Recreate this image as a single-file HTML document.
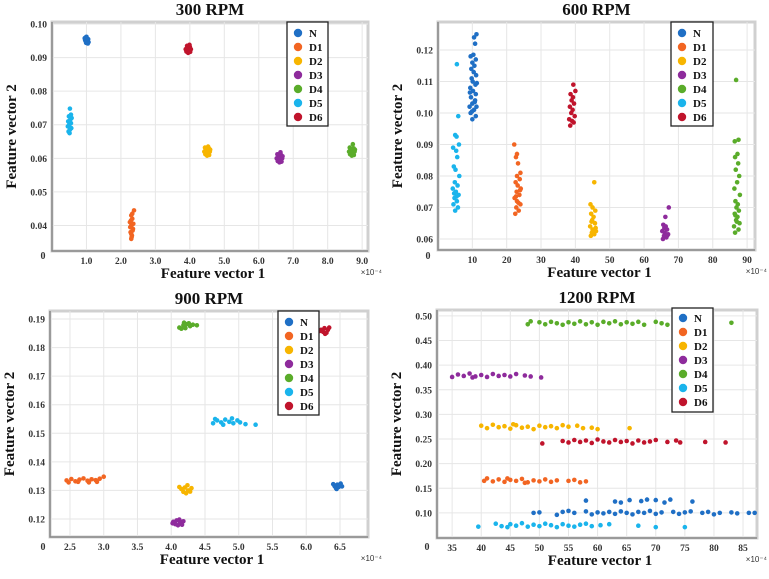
<!DOCTYPE html>
<html><head><meta charset="utf-8">
<style>
html,body{margin:0;padding:0;background:#fff;}
svg{display:block;font-family:"Liberation Serif",serif;}
</style></head>
<body>
<svg id="chart" width="769" height="579" viewBox="0 0 769 579" xmlns="http://www.w3.org/2000/svg"></svg>
<script>
// ---------- Data ----------
const seriesNames = ["N","D1","D2","D3","D4","D5","D6"];
const seriesColors = ["#1f6fc5","#f26522","#f7b500","#8e2b9c","#5aac2a","#1ab4ec","#c0142c"];

// 300 RPM
const r300_N = [[0.95,0.0958],[1.0,0.0962],[1.05,0.0955],[0.97,0.0950],[1.02,0.0948],[1.06,0.0946],[0.99,0.0944],[1.03,0.0953],[0.96,0.0953],[1.01,0.0957],[1.04,0.0942],[0.98,0.0960]];
const r300_D1 = [[2.3,0.036],[2.32,0.037],[2.28,0.038],[2.35,0.039],[2.3,0.040],[2.26,0.041],[2.33,0.042],[2.3,0.043],[2.38,0.0445],[2.3,0.0375],[2.34,0.0385],[2.27,0.0395],[2.31,0.0365],[2.36,0.0405],[2.29,0.0415],[2.33,0.0435]];
const r300_D2 = [[4.42,0.0620],[4.48,0.0625],[4.55,0.0630],[4.45,0.0612],[4.52,0.0615],[4.58,0.0620],[4.44,0.0632],[4.50,0.0608],[4.56,0.0610],[4.47,0.0618],[4.53,0.0635],[4.59,0.0626]];
const r300_D3 = [[6.52,0.0600],[6.58,0.0605],[6.65,0.0610],[6.55,0.0592],[6.62,0.0595],[6.68,0.0600],[6.54,0.0612],[6.60,0.0588],[6.66,0.0590],[6.57,0.0598],[6.63,0.0618],[6.69,0.0606]];
const r300_D4 = [[8.62,0.0620],[8.68,0.0625],[8.75,0.0630],[8.65,0.0612],[8.72,0.0615],[8.78,0.0620],[8.64,0.0632],[8.70,0.0608],[8.76,0.0610],[8.67,0.0618],[8.73,0.0642],[8.79,0.0626]];
const r300_D5 = [[0.48,0.0680],[0.52,0.0685],[0.56,0.0690],[0.46,0.0695],[0.50,0.0700],[0.55,0.0705],[0.47,0.0710],[0.53,0.0715],[0.57,0.0720],[0.49,0.0725],[0.54,0.0690],[0.51,0.0675],[0.55,0.0730],[0.52,0.0748]];
const r300_D6 = [[3.88,0.0925],[3.94,0.0930],[4.0,0.0932],[3.90,0.0918],[3.97,0.0920],[4.03,0.0925],[3.92,0.0935],[3.95,0.0914],[4.01,0.0917],[3.99,0.0938]];

// 600 RPM
const r600_N = [[10,0.098],[11,0.099],[9.5,0.100],[10.5,0.101],[9.2,0.102],[11.2,0.102],[10,0.103],[10.8,0.104],[9.6,0.105],[11,0.106],[10.2,0.107],[9.4,0.108],[10.9,0.109],[10.1,0.110],[9.8,0.111],[11.1,0.112],[10.4,0.113],[9.7,0.114],[10.6,0.115],[10,0.116],[11,0.117],[9.5,0.118],[10.3,0.1185],[10.8,0.122],[10.5,0.124],[11.2,0.125],[9.9,0.1005],[10.7,0.1035],[9.3,0.1065],[11.3,0.1095]];
const r600_D1 = [[22.5,0.068],[23.5,0.069],[22.8,0.070],[24,0.071],[23,0.072],[22.3,0.073],[23.7,0.074],[22.9,0.075],[24.1,0.076],[23.2,0.077],[22.6,0.078],[23.8,0.079],[23,0.080],[24,0.081],[23.3,0.084],[22.7,0.086],[23,0.087],[22.2,0.090],[23.4,0.0715],[22.7,0.0735],[23.9,0.0755]];
const r600_D2 = [[44.5,0.061],[45.5,0.0615],[44.8,0.062],[46,0.0625],[45,0.063],[44.3,0.064],[45.7,0.065],[44.9,0.066],[45.3,0.067],[44.6,0.068],[45.8,0.069],[45,0.070],[44.4,0.071],[45.5,0.078],[45.9,0.0635],[44.7,0.0655]];
const r600_D3 = [[65.5,0.060],[66.5,0.0605],[65.8,0.061],[67,0.0615],[66,0.062],[65.3,0.0625],[66.7,0.063],[65.9,0.0635],[66.3,0.064],[65.6,0.0645],[66.2,0.067],[67.2,0.070],[66.8,0.0612]];
const r600_D4 = [[86.5,0.062],[87.5,0.063],[86.2,0.064],[87.8,0.065],[86.8,0.066],[87.2,0.067],[86.4,0.068],[87.6,0.069],[86.9,0.070],[87.3,0.071],[86.6,0.072],[87.9,0.074],[86.3,0.076],[87.1,0.078],[87.7,0.080],[86.7,0.082],[87.4,0.084],[86.5,0.086],[87.2,0.087],[86.4,0.091],[87.5,0.0915],[86.8,0.1105],[87,0.0655],[86.6,0.0675]];
const r600_D5 = [[5,0.069],[5.8,0.070],[4.5,0.071],[5.5,0.072],[4.8,0.073],[6,0.074],[5.2,0.075],[4.3,0.076],[5.7,0.077],[4.9,0.078],[6.2,0.080],[5.1,0.082],[4.6,0.083],[5.6,0.086],[5.3,0.088],[4.4,0.089],[6.1,0.090],[5,0.093],[5.4,0.0925],[5.9,0.099],[5.5,0.1155],[4.7,0.0745],[5.4,0.0735]];
const r600_D6 = [[38.5,0.096],[39.5,0.097],[38.2,0.098],[39.8,0.099],[38.8,0.100],[39.2,0.101],[38.4,0.102],[39.6,0.103],[38.9,0.104],[39.3,0.105],[38.6,0.106],[40,0.107],[39.4,0.109],[39,0.0975]];

// 900 RPM
const r900_N = [[6.42,0.1315],[6.46,0.1320],[6.50,0.1318],[6.44,0.1308],[6.48,0.1312],[6.53,0.1314],[6.40,0.1322],[6.51,0.1324],[6.45,0.1305]];
const r900_D1 = [[2.45,0.1335],[2.52,0.1340],[2.58,0.1332],[2.64,0.1338],[2.70,0.1342],[2.76,0.1334],[2.82,0.1339],[2.88,0.1336],[2.94,0.1341],[3.0,0.1348],[2.48,0.1328],[2.62,0.1330],[2.78,0.1328],[2.90,0.1330]];
const r900_D2 = [[4.15,0.1305],[4.20,0.1310],[4.25,0.1300],[4.30,0.1308],[4.18,0.1295],[4.24,0.1318],[4.12,0.1312],[4.28,0.1296],[4.22,0.1290]];
const r900_D3 = [[4.03,0.1190],[4.08,0.1195],[4.13,0.1188],[4.18,0.1192],[4.06,0.1182],[4.12,0.1198],[4.16,0.1180],[4.02,0.1185],[4.10,0.1178]];
const r900_D4 = [[4.12,0.1870],[4.18,0.1878],[4.23,0.1882],[4.28,0.1875],[4.15,0.1866],[4.21,0.1868],[4.26,0.1885],[4.32,0.1880],[4.38,0.1878],[4.19,0.1887]];
const r900_D5 = [[4.62,0.1535],[4.68,0.1545],[4.74,0.1538],[4.80,0.1548],[4.86,0.1540],[4.92,0.1535],[4.98,0.1545],[4.65,0.1550],[4.77,0.1530],[5.02,0.1538],[5.10,0.1532],[5.25,0.1530],[4.90,0.1552]];
const r900_D6 = [[6.22,0.1862],[6.27,0.1868],[6.32,0.1862],[6.25,0.1855],[6.30,0.1852],[6.20,0.1858],[6.34,0.1870],[6.28,0.1848]];

// 1200 RPM
const r1200_N = [[49,0.100],[50,0.101],[53,0.096],[54,0.102],[55,0.104],[56,0.100],[58,0.103],[59,0.097],[60,0.101],[61,0.099],[62,0.102],[63,0.098],[64,0.103],[65,0.100],[66,0.097],[67,0.102],[68,0.100],[69,0.104],[70,0.098],[71,0.101],[73,0.102],[74,0.098],[75,0.101],[76,0.103],[78,0.100],[79,0.102],[80,0.097],[81,0.100],[83,0.101],[84,0.099],[86,0.100],[87,0.100],[58,0.125],[63,0.123],[64,0.121],[65.5,0.126],[67.5,0.124],[68.5,0.127],[70,0.126],[71.5,0.121],[72.5,0.127],[76.3,0.123]];
const r1200_D1 = [[40.5,0.165],[41,0.170],[42,0.164],[43,0.168],[44,0.163],[45,0.167],[46,0.165],[47,0.169],[48,0.162],[49,0.166],[50,0.164],[51,0.168],[52,0.163],[53,0.166],[55,0.165],[56,0.167],[57,0.162],[58,0.164],[44.5,0.170],[47.5,0.161]];
const r1200_D2 = [[40,0.277],[41,0.272],[42,0.279],[43,0.274],[44,0.276],[45,0.271],[46,0.278],[47,0.273],[48,0.275],[49,0.270],[50,0.277],[51,0.274],[52,0.276],[53,0.272],[54,0.278],[55,0.275],[56.5,0.277],[57.5,0.272],[59,0.273],[60,0.270],[65.5,0.272],[45.5,0.280]];
const r1200_D6 = [[50.5,0.241],[54,0.246],[55,0.243],[56,0.248],[57,0.244],[58,0.247],[59,0.242],[60,0.249],[61,0.245],[62,0.243],[63,0.248],[64,0.244],[65,0.246],[66,0.241],[67,0.247],[68,0.243],[69,0.245],[70,0.248],[72,0.244],[73.5,0.247],[74.2,0.243],[78.5,0.244],[82,0.243]];
const r1200_D3 = [[35,0.376],[36,0.381],[37,0.378],[38,0.383],[39,0.377],[40,0.380],[41,0.376],[42,0.382],[43,0.378],[44,0.380],[45,0.377],[46,0.382],[47.5,0.379],[48.5,0.377],[50.3,0.375],[38.5,0.375]];
const r1200_D4 = [[48,0.483],[48.5,0.489],[50,0.487],[51,0.483],[52,0.488],[53,0.485],[54,0.482],[55,0.487],[56,0.484],[57,0.489],[58,0.483],[59,0.487],[60,0.482],[61,0.488],[62,0.485],[63,0.489],[64,0.483],[65,0.487],[66,0.484],[67,0.488],[68,0.482],[70,0.488],[71,0.485],[72,0.482],[83,0.486]];
const r1200_D5 = [[39.5,0.072],[42.5,0.078],[43.5,0.073],[44.5,0.071],[45,0.077],[46,0.074],[47,0.079],[48,0.072],[49,0.076],[50,0.073],[51,0.078],[52,0.075],[53,0.071],[54,0.077],[55,0.074],[56,0.072],[57,0.076],[58,0.078],[59,0.073],[60.5,0.075],[62,0.077],[67,0.074],[70,0.071],[75,0.071]];

// Tick labels
const ticks300X = ["1.0","2.0","3.0","4.0","5.0","6.0","7.0","8.0","9.0"];
const ticks300Y = ["0.04","0.05","0.06","0.07","0.08","0.09","0.10"];
const ticks600X = ["10","20","30","40","50","60","70","80","90"];
const ticks600Y = ["0.06","0.07","0.08","0.09","0.10","0.11","0.12"];
const ticks900X = ["2.5","3.0","3.5","4.0","4.5","5.0","5.5","6.0","6.5"];
const ticks900Y = ["0.12","0.13","0.14","0.15","0.16","0.17","0.18","0.19"];
const ticks1200X = ["35","40","45","50","55","60","65","70","75","80","85"];
const ticks1200Y = ["0.10","0.15","0.20","0.25","0.30","0.35","0.40","0.45","0.50"];

// ---------- Rendering ----------
const NS = "http://www.w3.org/2000/svg";
const svg = document.getElementById("chart");
function mk(tag, attrs, parent){
  const e = document.createElementNS(NS, tag);
  for (const k in attrs) e.setAttribute(k, attrs[k]);
  (parent||svg).appendChild(e);
  return e;
}

const panels = [
  {id:"300", title:"300 RPM", L:52,T:22,R:368,B:251, x0:0,x1:9.17, y0:0.0324,y1:0.1006, tx:ticks300X, ty:ticks300Y,
   series:[r300_N,r300_D1,r300_D2,r300_D3,r300_D4,r300_D5,r300_D6], leg:{x:287,y:22,w:41,h:104,first:33}, zero:[43,259]},
  {id:"600", title:"600 RPM", L:438,T:22,R:755,B:250, x0:0,x1:92.3, y0:0.0565,y1:0.1289, tx:ticks600X, ty:ticks600Y,
   series:[r600_N,r600_D1,r600_D2,r600_D3,r600_D4,r600_D5,r600_D6], leg:{x:671,y:22,w:42,h:104,first:33}, zero:[428,259]},
  {id:"900", title:"900 RPM", L:50,T:311,R:368,B:537, x0:2.204,x1:6.915, y0:0.1137,y1:0.1928, tx:ticks900X, ty:ticks900Y,
   series:[r900_N,r900_D1,r900_D2,r900_D3,r900_D4,r900_D5,r900_D6], leg:{x:278,y:311,w:41,h:104,first:322}, zero:[43,550]},
  {id:"1200", title:"1200 RPM", L:437,T:310,R:757,B:538, x0:32.4,x1:87.4, y0:0.049,y1:0.512, tx:ticks1200X, ty:ticks1200Y,
   series:[r1200_N,r1200_D1,r1200_D2,r1200_D3,r1200_D4,r1200_D5,r1200_D6], leg:{x:672,y:308,w:41,h:104,first:318}, zero:[427,550]}
];

panels.forEach(p=>{
  const g = mk("g",{});
  
  
  const sx = v => p.L + (v - p.x0)/(p.x1 - p.x0)*(p.R - p.L);
  const sy = v => p.B - (v - p.y0)/(p.y1 - p.y0)*(p.B - p.T);

  const frame = mk("rect",{x:p.L,y:p.T,width:p.R-p.L,height:p.B-p.T,fill:"#fff",stroke:"#d0d0d0","stroke-width":3},g);
  
  

  p.tx.forEach(t=>{
    const x = sx(parseFloat(t));
    const gl = mk("line",{x1:x,x2:x,y1:p.T,y2:p.B,stroke:"#e6e6e6","stroke-width":1},g);
    
    
    const tl = mk("text",{x:x,y:p.B+13,"text-anchor":"middle","font-size":9.5,"font-weight":"bold",fill:"#333"},g);
    tl.textContent = t;
    
    
  });
  p.ty.forEach(t=>{
    const y = sy(parseFloat(t));
    const gl = mk("line",{x1:p.L,x2:p.R,y1:y,y2:y,stroke:"#e6e6e6","stroke-width":1},g);
    
    
    const tl = mk("text",{x:p.L-5,y:y+3.5,"text-anchor":"end","font-size":9.5,"font-weight":"bold",fill:"#333"},g);
    tl.textContent = t;
    
    
  });
  const z = mk("text",{x:p.zero[0],y:p.zero[1],"text-anchor":"middle","font-size":10,"font-weight":"bold",fill:"#333"},g);
  z.textContent = "0";
  
  

  const ax = mk("path",{d:`M${p.L},${p.T} L${p.L},${p.B} L${p.R},${p.B}`,fill:"none",stroke:"#888","stroke-width":1.5},g);
  
  

  p.series.forEach((pts,si)=>{
    const sg = mk("g",{fill:seriesColors[si]},g);
    
    
    pts.forEach(d=>{
      const c = mk("circle",{cx:sx(d[0]),cy:sy(d[1]),r:2.3},sg);
      
      
    });
  });

  const tt = mk("text",{x:(p.L+p.R)/2,y:p.T-7,"text-anchor":"middle","font-size":17,"font-weight":"bold",fill:"#111"},g);
  tt.textContent = p.title;
  
  
  const xt = mk("text",{x:(p.L+p.R)/2+3,y:p.B+27,"text-anchor":"middle","font-size":15,"font-weight":"bold",fill:"#111"},g);
  xt.textContent = "Feature vector 1";
  
  
  const yc = (p.T+p.B)/2;
  const yt = mk("text",{x:0,y:0,"text-anchor":"middle","font-size":15,"font-weight":"bold",fill:"#111",transform:`translate(${p.L-36},${yc}) rotate(-90)`},g);
  yt.textContent = "Feature vector 2";
  
  
  const ex = mk("text",{x:Math.min(p.R+14,767),y:p.B+24,"text-anchor":"end","font-size":8,fill:"#333","font-family":"Liberation Sans, sans-serif"},g);
  ex.textContent = "×10⁻⁴";
  
  

  const lg = mk("g",{},g);
  
  
  mk("rect",{x:p.leg.x,y:p.leg.y,width:p.leg.w,height:p.leg.h,fill:"#fff",stroke:"#222","stroke-width":1.3},lg);
  seriesNames.forEach((n,i)=>{
    const y = p.leg.first + i*14;
    const e = mk("g",{},lg);
    
    
    mk("circle",{cx:p.leg.x+11,cy:y,r:4.2,fill:seriesColors[i]},e);
    const t = mk("text",{x:p.leg.x+22,y:y+4,"font-size":11,"font-weight":"bold",fill:"#111"},e);
    t.textContent = n;
  });
});
</script>
</body></html>
